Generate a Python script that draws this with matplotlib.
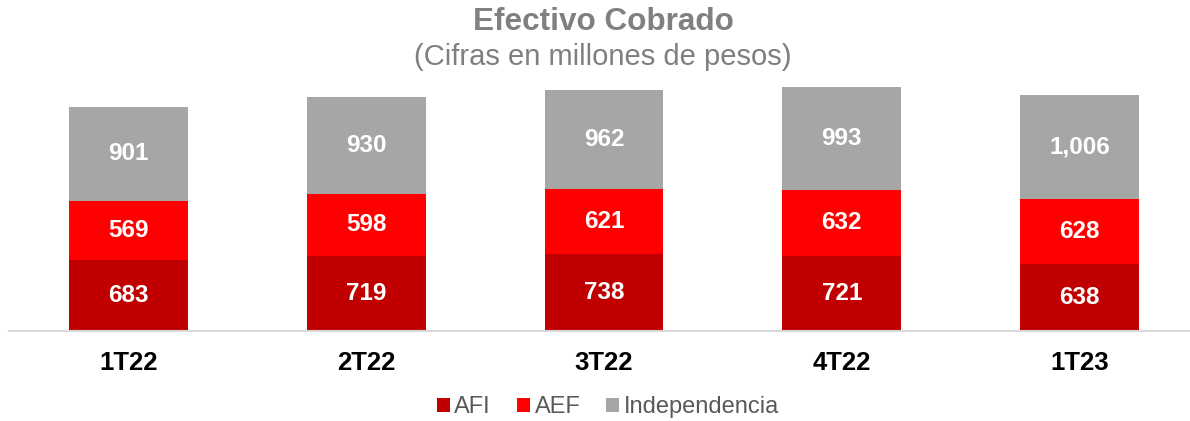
import numpy as np
import matplotlib.pyplot as plt

plt.rcParams['font.family'] = ['Liberation Sans', 'DejaVu Sans']

# datos
trimestres = ["1T22", "2T22", "3T22", "4T22", "1T23"]
afi = [683, 719, 738, 721, 638]
aef = [569, 598, 621, 632, 628]
independencia = [901, 930, 962, 993, 1006]

series = [("AFI", afi, "#C00000"),
          ("AEF", aef, "#FF0000"),
          ("Independencia", independencia, "#A6A6A6")]

fig = plt.figure(figsize=(11.9, 4.21), dpi=100)
ax = fig.add_axes([9 / 1190, 90.5 / 421, 1 - 9 / 1190, 250.5 / 421])

x = np.arange(len(trimestres))
bottom = np.zeros(len(trimestres))
for nombre, vals, color in series:
    vals = np.array(vals)
    bars = ax.bar(x, vals, width=0.5, bottom=bottom, color=color, label=nombre)
    for xi, b, v in zip(x, bottom, vals):
        ax.text(xi, b + v / 2, "{:,}".format(v), ha="center", va="center",
                color="white", fontsize=17.5, fontweight="bold")
    bottom += vals

ax.set_xlim(-0.503, 4.465)
ax.set_ylim(0, 2413)
ax.set_xticks(x)
ax.set_xticklabels(trimestres, fontsize=18.5, fontweight="bold", color="black")
ax.tick_params(axis="x", length=0, pad=15)
ax.set_yticks([])
for s in ["top", "right", "left"]:
    ax.spines[s].set_visible(False)
ax.spines["bottom"].set_color("#D9D9D9")
ax.spines["bottom"].set_linewidth(1.5)

fig.text(603 / 1190, 1 - 22 / 421, "Efectivo Cobrado", ha="center", va="center",
         fontsize=22.7, fontweight="bold", color="#808080")
fig.text(603 / 1190, 1 - 57 / 421, "(Cifras en millones de pesos)", ha="center",
         va="center", fontsize=21, color="#7F7F7F")

leg = fig.legend(loc="center", bbox_to_anchor=(608 / 1190, 1 - 407 / 421),
                 ncol=3, frameon=False, fontsize=17, handlelength=0.55,
                 handleheight=0.55, handletextpad=0.2, columnspacing=1.1,
                 labelcolor="#595959")

fig.savefig("out.png", dpi=100)
